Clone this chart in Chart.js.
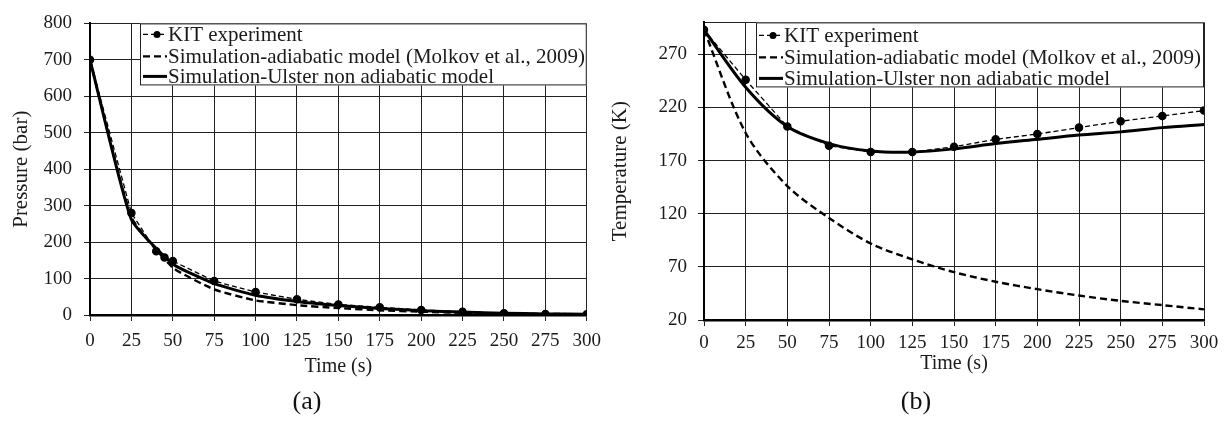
<!DOCTYPE html>
<html>
<head>
<meta charset="utf-8">
<script src="https://cdn.jsdelivr.net/npm/chart.js@4.4.1/dist/chart.umd.min.js"></script>
<style>
    body { margin: 0; background: #fff; width: 1229px; height: 436px; position: relative; overflow: hidden; font-family: "Liberation Serif", serif; }
    .panel { position: absolute; top: 0; height: 400px; }
    .caption { position: absolute; top: 386px; font-size: 26px; color: #111; transform: translateX(-50%); }
</style>
</head>
<body>
<div class="panel" style="left: 0; width: 610px;"><canvas id="pressure-chart"></canvas></div>
<div class="panel" style="left: 600px; width: 629px;"><canvas id="temperature-chart"></canvas></div>
<div class="caption" style="left: 307px;">(a)</div>
<div class="caption" style="left: 916px;">(b)</div>

<script>
// Time axis (s)
const simTime = [0, 25, 50, 75, 100, 125, 150, 175, 200, 225, 250, 275, 300];
const kitPressureTime = [0, 25, 40, 45, 50, 75, 100, 125, 150, 175, 200, 225, 250, 275, 300];

// Pressure (bar)
const kitPressure = [700, 280, 175, 158, 148, 93, 63, 43, 29, 21, 14, 9, 5, 3, 2];
const adiabaticPressure = [700, 268, 130, 70, 40, 27, 19, 13, 9, 6, 4, 3, 2];
const ulsterPressure = [700, 262, 140, 86, 54, 37, 26, 18, 12, 8, 5, 3, 2];

// Temperature (K)
const kitTemperature = [293, 246, 202, 184, 178, 178, 183, 190, 195, 201, 207, 212, 217];
const adiabaticTemperature = [293, 196, 146, 116, 92, 77, 65, 56, 49, 43, 38, 34, 30];
const ulsterTemperature = [293, 239, 202, 186, 179, 178, 181, 186, 190, 194, 197, 201, 204];

// Tick labels
const pressureTicks = [0, 100, 200, 300, 400, 500, 600, 700, 800];
const temperatureTicks = [20, 70, 120, 170, 220, 270];

const legendLabels = [
    'KIT experiment',
    'Simulation-adiabatic model (Molkov et al., 2009)',
    'Simulation-Ulster non adiabatic model'
];

const FONT = '"Liberation Serif", "Times New Roman", serif';
const INK = '#1a1a1a';

function toPoints(xs, ys) {
    return xs.map((x, i) => ({ x: x, y: ys[i] }));
}

function makeDatasets(kitX, kitY, adiabaticY, ulsterY, tension) {
    return [
        {
            label: legendLabels[0],
            data: toPoints(kitX, kitY),
            borderColor: '#000',
            backgroundColor: '#000',
            borderWidth: 1.3,
            borderDash: [5, 3],
            pointRadius: 3.6,
            pointHoverRadius: 3.6,
            tension: 0
        },
        {
            label: legendLabels[1],
            data: toPoints(simTime, adiabaticY),
            borderColor: '#000',
            borderWidth: 2.4,
            borderDash: [7, 4],
            pointRadius: 0,
            tension: tension
        },
        {
            label: legendLabels[2],
            data: toPoints(simTime, ulsterY),
            borderColor: '#000',
            borderWidth: 3,
            pointRadius: 0,
            tension: tension
        }
    ];
}

// Boxed legend drawn inside the plot area, like the original figure
const boxLegend = {
    id: 'boxLegend',
    afterDatasetsDraw(chart, args, opts) {
        const { ctx, chartArea } = chart;
        const left = chartArea.left + opts.offset;
        const top = chartArea.top;
        const width = chartArea.right - left;
        ctx.save();
        ctx.fillStyle = '#fff';
        ctx.fillRect(left, top, width, opts.height);
        ctx.strokeStyle = '#222';
        ctx.lineWidth = 1;
        ctx.strokeRect(left + 0.5, top + 0.5, width - 1, opts.height - 1);

        ctx.font = `21px ${FONT}`;
        ctx.textBaseline = 'middle';
        chart.data.datasets.forEach((ds, i) => {
            const y = top + opts.rows[i];
            const x0 = left + 3;
            const x1 = left + 27;
            ctx.strokeStyle = '#000';
            ctx.lineWidth = ds.borderWidth;
            ctx.setLineDash(ds.borderDash || []);
            ctx.beginPath();
            ctx.moveTo(x0, y);
            ctx.lineTo(x1, y);
            ctx.stroke();
            ctx.setLineDash([]);
            if (ds.pointRadius) {
                ctx.fillStyle = '#000';
                ctx.beginPath();
                ctx.arc((x0 + x1) / 2 + 2, y, 3.5, 0, Math.PI * 2);
                ctx.fill();
            }
            ctx.fillStyle = INK;
            ctx.fillText(ds.label, x1 + 1, y + 1);
        });
        ctx.restore();
    }
};

function makeOptions(cfg) {
    return {
        responsive: true,
        maintainAspectRatio: false,
        animation: false,
        layout: { padding: { top: cfg.padTop, right: cfg.padRight, left: 0, bottom: 0 } },
        plugins: {
            legend: { display: false },
            tooltip: { enabled: false },
            boxLegend: cfg.legend
        },
        scales: {
            x: {
                type: 'linear',
                min: 0,
                max: 300,
                afterFit: (scale) => { scale.height = cfg.xHeight; },
                ticks: {
                    stepSize: 25,
                    maxTicksLimit: 20,
                    autoSkip: false,
                    color: INK,
                    font: { family: FONT, size: 19 },
                    padding: cfg.xTickPad,
                    maxRotation: 0
                },
                grid: { color: '#222', lineWidth: 1, tickLength: 6, tickColor: '#222' },
                border: { color: '#000', width: 2.5 },
                title: {
                    display: true,
                    text: 'Time (s)',
                    color: INK,
                    font: { family: FONT, size: 20 },
                    padding: { top: 0, bottom: cfg.xTitlePad }
                }
            },
            y: {
                min: cfg.yMin,
                max: cfg.yMax,
                afterBuildTicks: (scale) => {
                    const vals = cfg.yTicks.slice();
                    if (vals[vals.length - 1] !== cfg.yMax) vals.push(cfg.yMax);
                    scale.ticks = vals.map(v => ({ value: v }));
                },
                afterFit: (scale) => { scale.width = cfg.yWidth; },
                ticks: {
                    maxTicksLimit: 20,
                    color: INK,
                    font: { family: FONT, size: 19 },
                    padding: cfg.yTickPad,
                    callback: (v) => cfg.yTicks.includes(v) ? v : ''
                },
                grid: {
                    color: '#222',
                    lineWidth: 1,
                    tickLength: 6,
                    tickColor: (c) => (c.tick && cfg.yTicks.includes(c.tick.value)) ? '#222' : 'rgba(0,0,0,0)'
                },
                border: { color: '#000', width: 2 },
                title: {
                    display: true,
                    text: cfg.yTitle,
                    color: INK,
                    font: { family: FONT, size: 21 },
                    padding: { top: cfg.yTitlePad, bottom: 0 }
                }
            }
        }
    };
}

new Chart(document.getElementById('pressure-chart'), {
    type: 'line',
    data: { datasets: makeDatasets(kitPressureTime, kitPressure, adiabaticPressure, ulsterPressure, 0.15) },
    options: makeOptions({
        padTop: 14, padRight: 20, xHeight: 85, yWidth: 90,
        xTickPad: 9, yTickPad: 12, xTitlePad: 21, yTitlePad: 9,
        yMin: 0, yMax: 800, yTicks: pressureTicks, yTitle: 'Pressure (bar)',
        legend: { offset: 50, height: 62, rows: [11, 33, 53] }
    }),
    plugins: [boxLegend]
});

new Chart(document.getElementById('temperature-chart'), {
    type: 'line',
    data: { datasets: makeDatasets(simTime, kitTemperature, adiabaticTemperature, ulsterTemperature, 0.3) },
    options: makeOptions({
        padTop: 15, padRight: 25, xHeight: 80, yWidth: 104,
        xTickPad: 6, yTickPad: 11, xTitlePad: 24, yTitlePad: 8,
        yMin: 20, yMax: 300, yTicks: temperatureTicks, yTitle: 'Temperature (K)',
        legend: { offset: 52, height: 65, rows: [13, 35, 56] }
    }),
    plugins: [boxLegend]
});
</script>
</body>
</html>
